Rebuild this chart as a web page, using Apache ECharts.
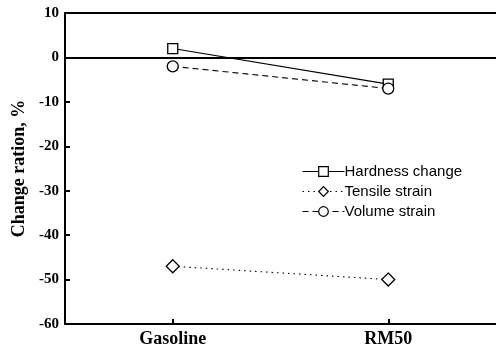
<!DOCTYPE html>
<html>
<head>
<meta charset="utf-8">
<script src="https://cdn.jsdelivr.net/npm/echarts@6/dist/echarts.min.js"></script>
<style>
  html, body { margin: 0; padding: 0; background: #fff; }
  #chart { width: 496px; height: 349px; }
</style>
</head>
<body>
<div id="chart"></div>
<script>
// Fuels tested
const categories = ['Gasoline', 'RM50'];
// Change after immersion, %
const hardnessChange = [2, -6];
const tensileStrain = [-47, -50];
const volumeStrain = [-2, -7];
// Y axis range and step
const yMin = -60, yMax = 10, yStep = 10;

const serif = '"Liberation Serif", "DejaVu Serif", serif';
const sans = '"Liberation Sans", Arial, sans-serif';

const chart = echarts.init(document.getElementById('chart'), null, { renderer: 'canvas' });

function lineSeries(name, data, symbol, size, dash) {
  return {
    name: name,
    type: 'line',
    data: data,
    symbol: symbol,
    symbolSize: size,
    showAllSymbol: true,
    lineStyle: { color: '#000', width: 1.1, type: dash },
    itemStyle: { color: '#fff', borderColor: '#000', borderWidth: 1.3 },
    emphasis: { disabled: true },
    z: 5
  };
}

const series = [
  lineSeries('Hardness change', hardnessChange, 'rect', 10, 'solid'),
  lineSeries('Tensile strain', tensileStrain, 'diamond', 13, [1.5, 4]),
  lineSeries('Volume strain', volumeStrain, 'circle', 11, [6, 4])
];
// Zero reference line across the plot
series[0].markLine = {
  silent: true,
  symbol: 'none',
  label: { show: false },
  lineStyle: { color: '#000', width: 2, type: 'solid' },
  data: [{ yAxis: 0 }]
};

chart.setOption({
  animation: false,
  backgroundColor: '#fff',
  grid: { left: 65, right: -4, top: 13, bottom: 25 },
  legend: {
    orient: 'vertical',
    left: 297,
    top: 159,
    itemWidth: 42,
    itemHeight: 12,
    itemGap: 5,
    itemStyle: { borderWidth: 1.2 },
    lineStyle: { width: 1 },
    textStyle: { fontFamily: sans, fontSize: 15, color: '#000', padding: [0, 0, 0, -5] },
    data: series.map(s => s.name)
  },
  xAxis: [
    {
      type: 'category',
      data: categories,
      boundaryGap: true,
      axisLine: { show: true, onZero: false, lineStyle: { color: '#000', width: 2 } },
      axisTick: { show: true, alignWithLabel: true, inside: true, length: 5, lineStyle: { color: '#000', width: 2 } },
      axisLabel: { fontFamily: serif, fontWeight: 'bold', fontSize: 18, color: '#000', margin: 6 },
      splitLine: { show: false }
    },
    {
      type: 'category',
      data: categories,
      position: 'top',
      axisLine: { show: true, onZero: false, lineStyle: { color: '#000', width: 2 } },
      axisTick: { show: false },
      axisLabel: { show: false },
      splitLine: { show: false }
    }
  ],
  yAxis: {
    type: 'value',
    min: yMin,
    max: yMax,
    interval: yStep,
    name: 'Change ration, %',
    nameLocation: 'middle',
    nameGap: 35,
    nameRotate: 90,
    nameTextStyle: { fontFamily: serif, fontWeight: 'bold', fontSize: 18, color: '#000' },
    axisLine: { show: true, lineStyle: { color: '#000', width: 2 } },
    axisTick: { show: true, inside: true, length: 5, lineStyle: { color: '#000', width: 2 } },
    axisLabel: { fontFamily: serif, fontWeight: 'bold', fontSize: 15, color: '#000', margin: 6 },
    splitLine: { show: false }
  },
  series: series
});
</script>
</body>
</html>
